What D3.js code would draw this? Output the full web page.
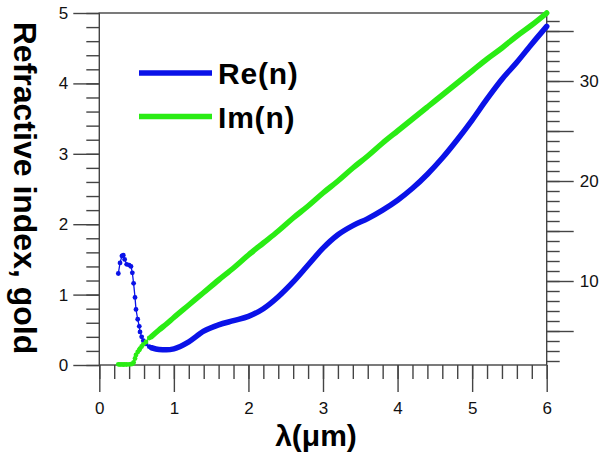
<!DOCTYPE html>
<html>
<head>
<meta charset="utf-8">
<script src="https://cdn.jsdelivr.net/npm/d3@7"></script>
<style>
  html, body { margin: 0; padding: 0; background: #fff; }
  svg { display: block; font-family: "Liberation Sans", Arial, Helvetica, sans-serif; }
</style>
</head>
<body>
<svg id="chart" width="600" height="454"></svg>
<script>
// Complex refractive index of gold, n = Re(n) + i Im(n), versus wavelength (µm).

// Short-wavelength samples: sparse, drawn as dots joined by a thin line.
const uvLambda = [0.255, 0.278, 0.304, 0.322, 0.340, 0.367, 0.400, 0.425, 0.443, 0.460,
                  0.479, 0.492, 0.515, 0.536, 0.546, 0.568, 0.590, 0.626, 0.670];
const uvRe     = [1.30, 1.45, 1.55, 1.56, 1.50, 1.43, 1.42, 1.40, 1.31, 1.16,
                  0.96, 0.79, 0.65, 0.55, 0.47, 0.40, 0.345, 0.30, 0.26];
const uvIm     = [1.67, 1.65, 1.66, 1.64, 1.66, 1.65, 1.67, 1.68, 1.72, 1.85,
                  2.25, 2.60, 2.90, 3.10, 3.24, 3.45, 3.67, 3.90, 4.30];

// Infrared samples: densely measured, drawn as a heavy trace.
const irLambda = [0.7, 0.8, 0.9, 1.0, 1.2, 1.4, 1.6, 1.8, 2.0, 2.2, 2.4, 2.6, 2.8, 3.0,
                  3.2, 3.4, 3.6, 3.8, 4.0, 4.2, 4.4, 4.6, 4.8, 5.0, 5.2, 5.4, 5.6, 5.8, 6.0];
const irRe     = [0.245, 0.22, 0.215, 0.23, 0.33, 0.48, 0.57, 0.63, 0.69, 0.80, 0.97, 1.18, 1.42, 1.66,
                  1.85, 1.98, 2.08, 2.20, 2.34, 2.51, 2.71, 2.94, 3.20, 3.48, 3.78, 4.06, 4.30, 4.56, 4.81];
const irIm     = [4.45, 5.1, 5.7, 6.35, 7.6, 8.85, 10.1, 11.3, 12.6, 13.8, 15.0, 16.3, 17.5, 18.8,
                  20.0, 21.3, 22.5, 23.8, 25.0, 26.2, 27.4, 28.6, 29.8, 31.0, 32.2, 33.3, 34.5, 35.6, 36.8];

// Axis ticks and labels
const xMajor = [0, 1, 2, 3, 4, 5, 6];
const leftMajor = [0, 1, 2, 3, 4, 5];
const rightLabelled = [10, 20, 30];
const rightLong = [5, 15, 25, 35];
const seriesNames = ["Re(n)", "Im(n)"];
const seriesColors = ["#0a12e8", "#2aec14"];
const xTitle = "λ(μm)";
const yTitle = "Refractive index, gold";

const svg = d3.select("#chart");
const axisColor = "#444";

const x = d3.scaleLinear().domain([0, 6]).range([99.3, 546.7]);
const yL = d3.scaleLinear().domain([0, 5]).range([365, 13]);
const yR = d3.scaleLinear().domain([1.6, 36.8]).range([365, 13]);

const minorSteps = (a, b, s) => d3.range(Math.round(a / s), Math.round(b / s) + 1).map(i => +(i * s).toFixed(6));

function styleAxis(g) {
  g.select(".domain").remove();
  g.selectAll(".tick line").attr("stroke", axisColor).attr("stroke-width", 1.4);
  g.selectAll(".tick text").attr("fill", "#111").attr("font-size", 17);
}

// Left axis (Re(n))
svg.append("g").attr("transform", `translate(${x(0)},0)`)
  .call(d3.axisLeft(yL).tickValues(minorSteps(0, 5, 0.2)).tickSize(13).tickFormat(""))
  .call(styleAxis);
svg.append("g").attr("transform", `translate(${x(0)},0)`)
  .call(d3.axisLeft(yL).tickValues(leftMajor).tickSize(26).tickPadding(5).tickFormat(d3.format("d")))
  .call(styleAxis);

// Bottom axis (wavelength)
svg.append("g").attr("transform", `translate(0,${yL(0)})`)
  .call(d3.axisBottom(x).tickValues(minorSteps(0, 6, 0.2)).tickSize(14).tickFormat(""))
  .call(styleAxis);
svg.append("g").attr("transform", `translate(0,${yL(0)})`)
  .call(d3.axisBottom(x).tickValues(xMajor).tickSize(27).tickPadding(10).tickFormat(d3.format("d")))
  .call(styleAxis);

// Right axis (Im(n))
svg.append("g").attr("transform", `translate(${x(6)},0)`)
  .call(d3.axisRight(yR).tickValues(d3.range(2, 37)).tickSize(13).tickFormat(""))
  .call(styleAxis);
svg.append("g").attr("transform", `translate(${x(6)},0)`)
  .call(d3.axisRight(yR).tickValues(rightLong).tickSize(27).tickFormat(""))
  .call(styleAxis);
svg.append("g").attr("transform", `translate(${x(6)},0)`)
  .call(d3.axisRight(yR).tickValues(rightLabelled).tickSize(27).tickPadding(6).tickFormat(d3.format("d")))
  .call(styleAxis);

// Plot frame
const frame = svg.append("g").attr("stroke", axisColor).attr("stroke-width", 1.4).attr("fill", "none");
frame.append("rect")
  .attr("x", x(0)).attr("y", yL(5))
  .attr("width", x(6) - x(0)).attr("height", yL(0) - yL(5));

// Curves
const series = [
  { name: seriesNames[0], color: seriesColors[0], uv: uvRe, ir: irRe, y: yL },
  { name: seriesNames[1], color: seriesColors[1], uv: uvIm, ir: irIm, y: yR }
];

series.forEach(s => {
  const uvPts = uvLambda.map((l, i) => [l, s.uv[i]]);
  const irPts = irLambda.map((l, i) => [l, s.ir[i]]);
  const g = svg.append("g");

  const thin = d3.line().x(d => x(d[0])).y(d => s.y(d[1]));
  g.append("path")
    .attr("d", thin(uvPts.concat([irPts[0]])))
    .attr("fill", "none").attr("stroke", s.color).attr("stroke-width", 1.3);

  g.selectAll("circle").data(uvPts).join("circle")
    .attr("cx", d => x(d[0])).attr("cy", d => s.y(d[1])).attr("r", 2.4)
    .attr("fill", s.color);

  const thick = d3.line().x(d => x(d[0])).y(d => s.y(d[1])).curve(d3.curveMonotoneX);
  g.append("path")
    .attr("d", thick(irPts))
    .attr("fill", "none").attr("stroke", s.color).attr("stroke-width", 5.5)
    .attr("stroke-linecap", "round").attr("stroke-linejoin", "round");
});

// Legend
const legend = svg.append("g");
series.forEach((s, i) => {
  const ly = 73 + i * 43.5;
  legend.append("line")
    .attr("x1", 139).attr("x2", 212).attr("y1", ly).attr("y2", ly)
    .attr("stroke", s.color).attr("stroke-width", 5.5);
  legend.append("text")
    .attr("x", 218).attr("y", ly + 11)
    .attr("font-size", 30).attr("font-weight", "bold").attr("fill", "#000")
    .attr("letter-spacing", 0.8)
    .text(s.name);
});

// Axis titles
svg.append("text")
  .attr("x", 316).attr("y", 446)
  .attr("text-anchor", "middle")
  .attr("font-size", 30).attr("font-weight", "bold").attr("fill", "#000")
  .text(xTitle);

svg.append("text")
  .attr("transform", "translate(14,188) rotate(90)")
  .attr("text-anchor", "middle")
  .attr("font-size", 32).attr("font-weight", "bold").attr("fill", "#000")
  .text(yTitle);
</script>
</body>
</html>
